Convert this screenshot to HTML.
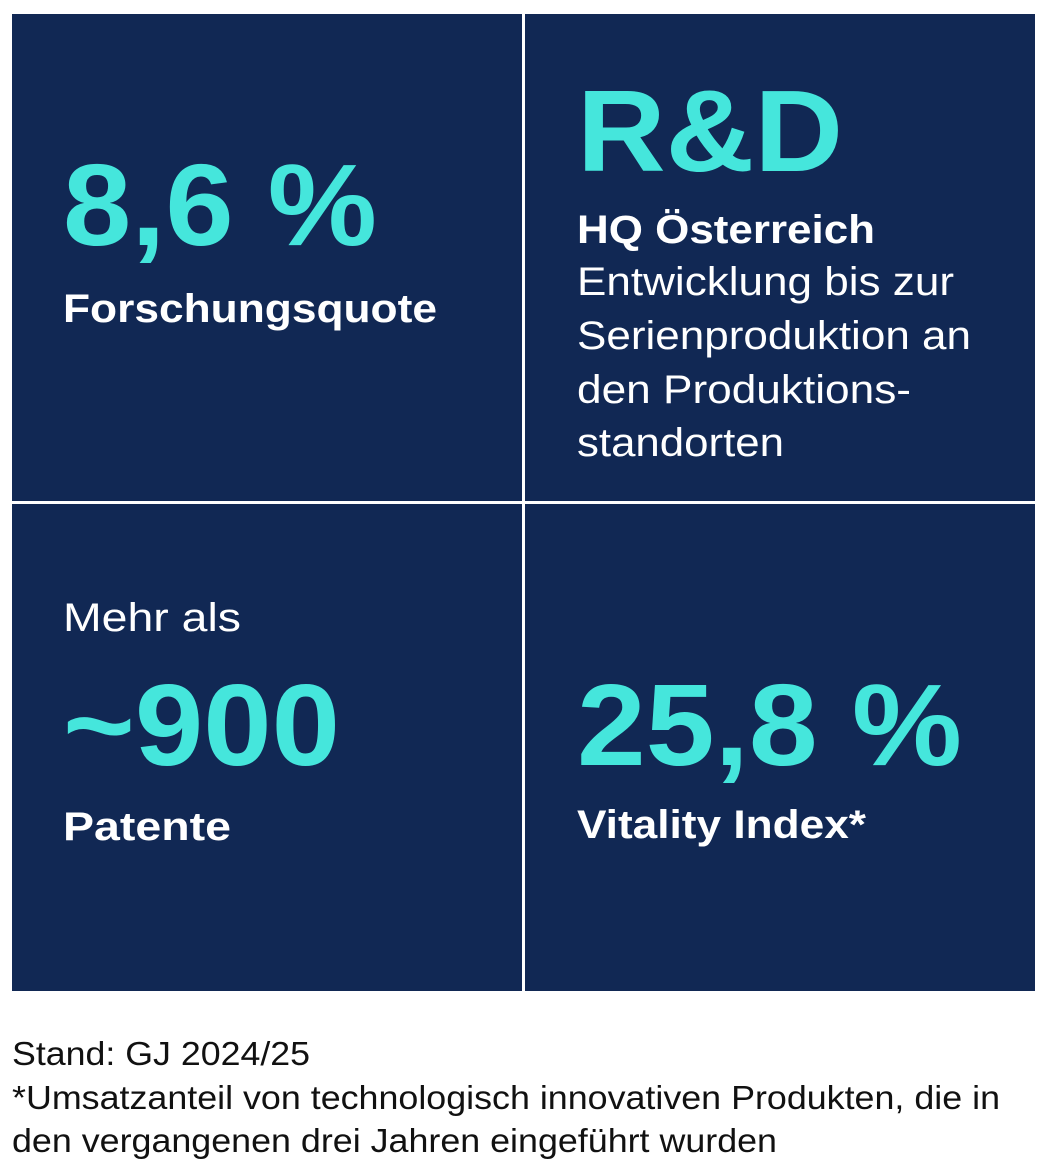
<!DOCTYPE html>
<html><head><meta charset="utf-8"><style>
html,body{margin:0;padding:0;background:#fff;width:1049px;height:1173px;overflow:hidden}
svg{display:block}
text{font-family:"Liberation Sans",Arial,sans-serif}
.c{fill:#45e6dc;font-weight:bold;font-size:116px}
.w{fill:#fff;font-size:40px}
.b{font-weight:bold}
.f{fill:#111;font-size:33px}
</style></head><body>
<svg width="1049" height="1173" viewBox="0 0 1049 1173">
<rect x="12" y="14" width="510" height="487" fill="#112854"/>
<rect x="525" y="14" width="510" height="487" fill="#112854"/>
<rect x="12" y="504" width="510" height="487" fill="#112854"/>
<rect x="525" y="504" width="510" height="487" fill="#112854"/>

<text class="c" x="63" y="245" textLength="314" lengthAdjust="spacingAndGlyphs">8,6 %</text>
<text class="w b" x="63" y="322" textLength="374" lengthAdjust="spacingAndGlyphs">Forschungsquote</text>

<text class="c" x="577" y="171" textLength="266" lengthAdjust="spacingAndGlyphs">R&amp;D</text>
<text class="w b" x="577" y="243" textLength="298" lengthAdjust="spacingAndGlyphs">HQ Österreich</text>
<text class="w" x="577" y="295" textLength="377" lengthAdjust="spacingAndGlyphs">Entwicklung bis zur</text>
<text class="w" x="577" y="349" textLength="394" lengthAdjust="spacingAndGlyphs">Serienproduktion an</text>
<text class="w" x="577" y="403" textLength="334" lengthAdjust="spacingAndGlyphs">den Produktions-</text>
<text class="w" x="577" y="456" textLength="207" lengthAdjust="spacingAndGlyphs">standorten</text>

<text class="w" x="63" y="631" textLength="178" lengthAdjust="spacingAndGlyphs">Mehr als</text>
<text class="c" x="63" y="765" textLength="277" lengthAdjust="spacingAndGlyphs">~900</text>
<text class="w b" x="63" y="840" textLength="168" lengthAdjust="spacingAndGlyphs">Patente</text>

<text class="c" x="577" y="765" textLength="385" lengthAdjust="spacingAndGlyphs">25,8 %</text>
<text class="w b" x="577" y="838" textLength="289" lengthAdjust="spacingAndGlyphs">Vitality Index*</text>

<text class="f" x="12" y="1065" textLength="298" lengthAdjust="spacingAndGlyphs">Stand: GJ 2024/25</text>
<text class="f" x="12" y="1109" textLength="988" lengthAdjust="spacingAndGlyphs">*Umsatzanteil von technologisch innovativen Produkten, die in</text>
<text class="f" x="12" y="1152" textLength="765" lengthAdjust="spacingAndGlyphs">den vergangenen drei Jahren eingeführt wurden</text>
</svg>
</body></html>
